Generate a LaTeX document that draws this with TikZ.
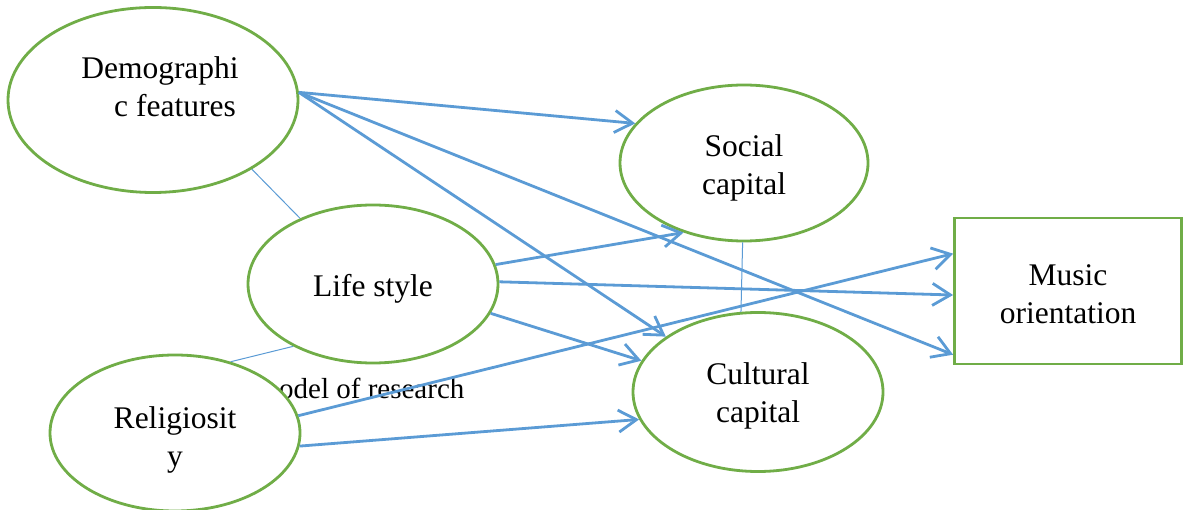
\documentclass[tikz,border=0pt]{standalone}
\usepackage{fontspec}
\setmainfont{Liberation Serif}
\usetikzlibrary{shapes.geometric,arrows.meta}
\definecolor{grn}{HTML}{70AD47}
\definecolor{blu}{HTML}{5B9BD5}
\begin{document}
\begin{tikzpicture}[x=1pt,y=-1pt,
  txt/.style={font=\fontsize{31.5}{38}\selectfont, align=center, inner sep=0pt},
  ell/.style={ellipse, draw=grn, line width=2.8pt, fill=white, inner sep=0pt},
  conn/.style={draw=blu, line width=2.8pt, -{Straight Barb[length=18pt,width=22pt]}},
  thin/.style={draw=blu, line width=1pt}]
\useasboundingbox (0,0) rectangle (1188,510);
\node[font=\fontsize{29}{34}\selectfont, inner sep=0pt, anchor=base west] (cap) at (279,398) {odel of research};
\node[ell, minimum width=290pt, minimum height=185pt] (dem) at (153,100) {};
\node[txt] (demt) at (160,87) {Demographi\\\hspace*{30pt}c features};
\node[ell, minimum width=248pt, minimum height=156pt] (soc) at (744,163) {};
\node[txt] (soct) at (744,168) {Social\\capital};
\node[ell, minimum width=250pt, minimum height=158pt] (lif) at (373,284) {};
\node[txt] (lift) at (373,289) {Life style};
\node[ell, minimum width=250pt, minimum height=159pt] (cul) at (758,392) {};
\node[txt] (cult) at (758,396) {Cultural\\capital};
\node[ell, minimum width=250pt, minimum height=156pt] (rel) at (175,433) {};
\node[txt] (relt) at (175,440) {Religiosit\\y};
\node[draw=grn, line width=2.8pt, minimum width=227pt, minimum height=146pt] (mus) at (1068,291) {};
\node[txt] (must) at (1068,294) {Music\\orientation};
% thin connectors
\draw[thin] (dem.-35) -- (lif.138);
\draw[thin] (rel.52) -- (lif.218);
\draw[thin] (soc.-91) -- (cul.102);
% arrows
\draw[conn] (dem.3) -- (soc.160);
\draw[conn] (dem.3) -- (cul.149);
\draw[conn] (dem.3) -- (mus.209);
\draw[conn] (lif.9) -- (soc.229);
\draw[conn] (lif.1) -- (mus.182);
\draw[conn] (lif.-14) -- (cul.165);
\draw[conn] (rel.8) -- (mus.162);
\draw[conn] (rel.-6) -- (cul.193);
\end{tikzpicture}
\end{document}
